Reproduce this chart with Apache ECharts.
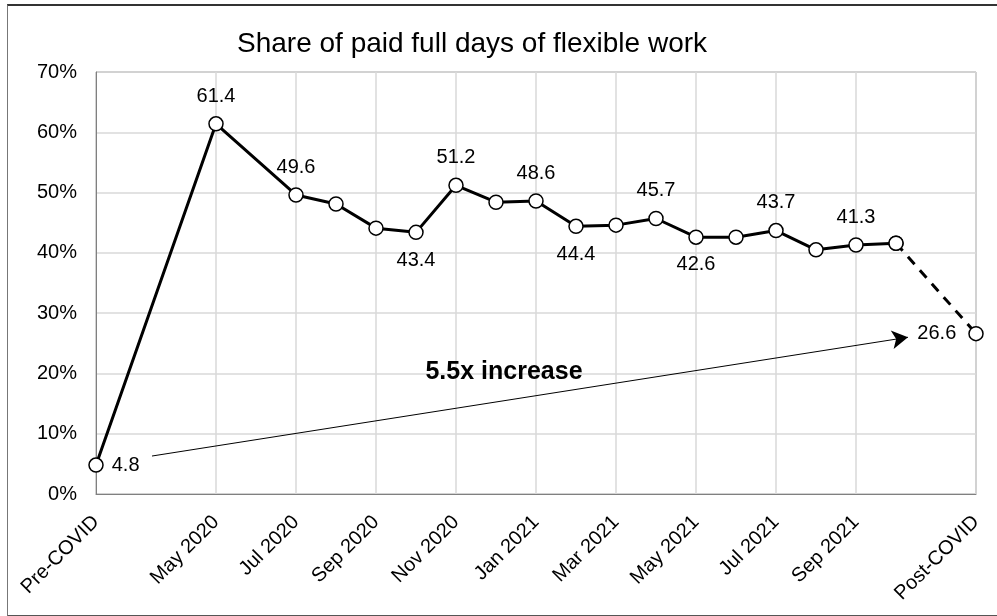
<!DOCTYPE html>
<html>
<head>
<meta charset="utf-8">
<script src="https://cdn.jsdelivr.net/npm/echarts@6/dist/echarts.min.js"></script>
<style>
  html, body { margin: 0; padding: 0; background: #fff; }
  #wrap { position: relative; width: 997px; height: 616px; overflow: hidden; }
  #chart { position: absolute; left: 0; top: 0; width: 997px; height: 616px; }
  /* outer frame of the original picture */
  #frame {
    position: absolute; left: 7px; top: 4px; width: 1000px; height: 609px;
    border-top: 2px solid #333; border-left: 1px solid #777; border-bottom: 2px solid #555;
    pointer-events: none;
  }
</style>
</head>
<body>
<div id="wrap">
  <div id="chart"></div>
  <div id="frame"></div>
</div>
<script>
// categories (blank slots are gaps on the axis)
const categories = ['Pre-COVID', '', '', 'May 2020', 'Jun 2020', 'Jul 2020', 'Aug 2020', 'Sep 2020',
  'Oct 2020', 'Nov 2020', 'Dec 2020', 'Jan 2021', 'Feb 2021', 'Mar 2021', 'Apr 2021', 'May 2021',
  'Jun 2021', 'Jul 2021', 'Aug 2021', 'Sep 2021', 'Oct 2021', ' ', 'Post-COVID']
const shareValues = [4.8, null, null, 61.4, null, 49.6, 48.1, 44.1, 43.4, 51.2, 48.4, 48.6,
  44.4, 44.6, 45.7, 42.6, 42.6, 43.7, 40.5, 41.3, 41.6, null, 26.6]
const shownTicks = [0, 3, 5, 7, 9, 11, 13, 15, 17, 19, 22]
const yTicks = [0, 10, 20, 30, 40, 50, 60, 70]
// annotation arrow (x in category index units, y in %)
const arrowFrom = [1.4, 6.3]
const arrowTo = [20.3, 26.0]
const noteAt = [10.2, 20.2]
const noteText = '5.5x increase'

const lastMonth = 20
const labelPos = { 0: 'right', 3: 'top', 5: 'top', 8: 'bottom', 9: 'top', 11: 'top', 12: 'bottom',
  14: 'top', 15: 'bottom', 17: 'top', 19: 'top', 22: 'left' }

const font = "'Liberation Sans', Arial, sans-serif"

const toItem = (v, i) => {
  if (v == null) return null
  const pos = labelPos[i]
  return {
    value: v,
    label: pos ? { show: true, position: pos, distance: pos === 'left' ? 12 : (pos === 'right' ? 8 : 10) } : { show: false }
  }
}
const solidData = shareValues.map((v, i) => (i <= lastMonth ? toItem(v, i) : null))
const dashData = shareValues.map((v, i) => (i >= lastMonth ? toItem(v, i) : null))

const chart = echarts.init(document.getElementById('chart'), null, { renderer: 'canvas' })

const commonLabel = { color: '#000', fontSize: 20, fontFamily: font }

chart.setOption({
  animation: false,
  title: {
    text: 'Share of paid full days of flexible work',
    left: 232,
    top: 25,
    textStyle: { color: '#000', fontSize: 28, fontWeight: 'normal', fontFamily: font }
  },
  grid: {
    left: 96, right: 21, top: 72, bottom: 122,
    show: true, borderColor: '#808080', borderWidth: 1,
    containLabel: false, outerBoundsMode: 'none'
  },
  xAxis: [
    {
      type: 'category',
      data: categories,
      boundaryGap: false,
      axisLine: { show: true, lineStyle: { color: '#808080', width: 1 } },
      axisTick: { show: false },
      splitLine: { show: true, lineStyle: { color: '#d9d9d9', width: 1.5 } },
      axisLabel: {
        interval: (i) => shownTicks.includes(i),
        rotate: 45,
        margin: 25,
        color: '#000',
        fontSize: 20,
        fontFamily: font
      }
    },
    { type: 'value', min: 0, max: categories.length - 1, show: false }
  ],
  yAxis: {
    type: 'value',
    min: yTicks[0],
    max: yTicks[yTicks.length - 1],
    interval: 10,
    axisLine: { show: true, lineStyle: { color: '#808080', width: 1 } },
    axisTick: { show: false },
    splitLine: { show: true, lineStyle: { color: '#d9d9d9', width: 1.5 } },
    axisLabel: { formatter: '{value}%', margin: 19, color: '#000', fontSize: 20, fontFamily: font }
  },
  series: [
    {
      type: 'line',
      data: dashData,
      connectNulls: true,
      symbol: 'circle',
      symbolSize: 14,
      showAllSymbol: true,
      lineStyle: { color: '#000', width: 3, type: [10, 8] },
      itemStyle: { color: '#fff', borderColor: '#000', borderWidth: 1.5 },
      label: commonLabel,
      z: 2
    },
    {
      type: 'line',
      data: solidData,
      connectNulls: true,
      symbol: 'circle',
      symbolSize: 14,
      showAllSymbol: true,
      lineStyle: { color: '#000', width: 3 },
      itemStyle: { color: '#fff', borderColor: '#000', borderWidth: 1.5 },
      label: commonLabel,
      z: 3
    },
    {
      type: 'line',
      xAxisIndex: 1,
      data: [],
      silent: true,
      markLine: {
        silent: true,
        symbol: ['none', 'arrow'],
        symbolSize: [14, 16],
        label: { show: false },
        lineStyle: { color: '#000', width: 1, type: 'solid' },
        data: [[{ coord: arrowFrom }, { coord: arrowTo }]]
      },
      markPoint: {
        silent: true,
        symbol: 'circle',
        symbolSize: 0,
        label: {
          show: true,
          position: 'inside',
          formatter: noteText,
          color: '#000',
          fontSize: 25,
          fontWeight: 'bold',
          fontFamily: font
        },
        data: [{ coord: noteAt }]
      }
    }
  ]
})
</script>
</body>
</html>
